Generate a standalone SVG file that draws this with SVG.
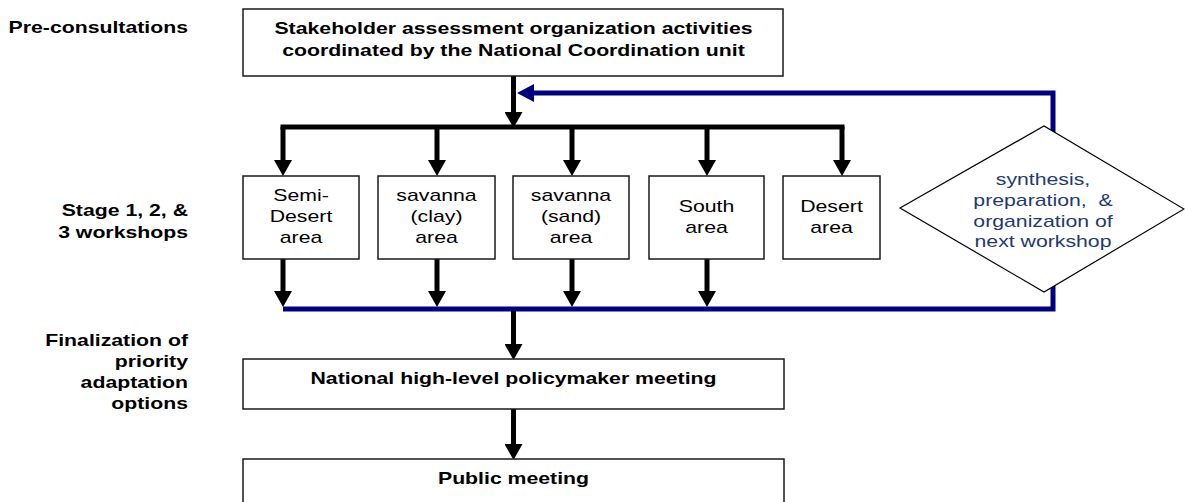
<svg xmlns="http://www.w3.org/2000/svg" width="1185" height="502" viewBox="0 0 1185 502">
<style>
  .box { fill: #ffffff; stroke: #1a1a1a; stroke-width: 1.5; }
  .dia { fill: #ffffff; stroke: #000000; stroke-width: 1.2; }
  text { font-family: "Liberation Sans", Arial, sans-serif; font-size: 17px; fill: #000000; }
  .b { font-weight: bold; }
  .mid { text-anchor: middle; }
  .end { text-anchor: end; }
  .blue { fill: #1f3a6e; }
  .blk { stroke: #000000; stroke-width: 5; fill: none; }
  .nav { stroke: #000080; stroke-width: 5; fill: none; stroke-linejoin: miter; }
</style>
<defs>
  <marker id="ab" markerUnits="userSpaceOnUse" markerWidth="16" markerHeight="18" viewBox="0 0 16 18" refX="0" refY="9" orient="auto">
    <path d="M0,0 L16,9 L0,18 Z" fill="#000000"/>
  </marker>
  <marker id="an" markerUnits="userSpaceOnUse" markerWidth="17" markerHeight="18" viewBox="0 0 17 18" refX="0" refY="9" orient="auto">
    <path d="M0,0 L17,9 L0,18 Z" fill="#000080"/>
  </marker>
</defs>

<g id="labels">
  <text class="b end" transform="translate(188,33) scale(1.25,1)">Pre-consultations</text>
  <text class="b end" transform="translate(188,216) scale(1.25,1)">Stage 1, 2, &amp;</text>
  <text class="b end" transform="translate(188,238) scale(1.25,1)">3 workshops</text>
  <text class="b end" transform="translate(188,346) scale(1.25,1)">Finalization of</text>
  <text class="b end" transform="translate(188,367) scale(1.25,1)">priority</text>
  <text class="b end" transform="translate(188,388) scale(1.25,1)">adaptation</text>
  <text class="b end" transform="translate(188,409) scale(1.25,1)">options</text>
</g>

<g id="connectors">
  <line class="blk" x1="513.5" y1="76" x2="513.5" y2="112" marker-end="url(#ab)"/>
  <line class="blk" x1="280.5" y1="127" x2="844.5" y2="127"/>
  <line class="blk" x1="283" y1="127" x2="283" y2="160" marker-end="url(#ab)"/>
  <line class="blk" x1="437" y1="127" x2="437" y2="160" marker-end="url(#ab)"/>
  <line class="blk" x1="572" y1="127" x2="572" y2="160" marker-end="url(#ab)"/>
  <line class="blk" x1="707" y1="127" x2="707" y2="160" marker-end="url(#ab)"/>
  <line class="blk" x1="842" y1="127" x2="842" y2="160" marker-end="url(#ab)"/>
  <line class="blk" x1="283" y1="259" x2="283" y2="291" marker-end="url(#ab)"/>
  <line class="blk" x1="437" y1="259" x2="437" y2="291" marker-end="url(#ab)"/>
  <line class="blk" x1="572" y1="259" x2="572" y2="291" marker-end="url(#ab)"/>
  <line class="blk" x1="707" y1="259" x2="707" y2="291" marker-end="url(#ab)"/>
  <polyline class="nav" points="283,309 1053,309 1053,93 534,93" marker-end="url(#an)"/>
  <line class="blk" x1="513.5" y1="311" x2="513.5" y2="344" marker-end="url(#ab)"/>
  <line class="blk" x1="513.5" y1="409" x2="513.5" y2="444" marker-end="url(#ab)"/>
</g>

<g id="n-top">
  <rect class="box" x="243" y="9" width="540" height="67"/>
  <text class="b mid" transform="translate(513.5,34) scale(1.25,1)">Stakeholder assessment organization activities</text>
  <text class="b mid" transform="translate(513.5,56) scale(1.25,1)">coordinated by the National Coordination unit</text>
</g>

<g id="n-semi">
  <rect class="box" x="243" y="176" width="116" height="83"/>
  <text class="mid" transform="translate(301,201) scale(1.25,1)">Semi-</text>
  <text class="mid" transform="translate(301,222) scale(1.25,1)">Desert</text>
  <text class="mid" transform="translate(301,243) scale(1.25,1)">area</text>
</g>
<g id="n-clay">
  <rect class="box" x="378" y="176" width="117" height="83"/>
  <text class="mid" transform="translate(436.5,201) scale(1.25,1)">savanna</text>
  <text class="mid" transform="translate(436.5,222) scale(1.25,1)">(clay)</text>
  <text class="mid" transform="translate(436.5,243) scale(1.25,1)">area</text>
</g>
<g id="n-sand">
  <rect class="box" x="513" y="176" width="116" height="83"/>
  <text class="mid" transform="translate(571,201) scale(1.25,1)">savanna</text>
  <text class="mid" transform="translate(571,222) scale(1.25,1)">(sand)</text>
  <text class="mid" transform="translate(571,243) scale(1.25,1)">area</text>
</g>
<g id="n-south">
  <rect class="box" x="649" y="176" width="115" height="83"/>
  <text class="mid" transform="translate(706.5,212) scale(1.25,1)">South</text>
  <text class="mid" transform="translate(706.5,233) scale(1.25,1)">area</text>
</g>
<g id="n-desert">
  <rect class="box" x="783" y="176" width="97" height="83"/>
  <text class="mid" transform="translate(831.5,212) scale(1.25,1)">Desert</text>
  <text class="mid" transform="translate(831.5,233) scale(1.25,1)">area</text>
</g>

<g id="n-synthesis">
  <polygon class="dia" points="900,208 1044,126 1184,209 1044,292"/>
  <text class="mid blue" transform="translate(1043,185) scale(1.25,1)">synthesis,</text>
  <text class="mid blue" transform="translate(1043,206) scale(1.25,1)" xml:space="preserve">preparation,  &amp;</text>
  <text class="mid blue" transform="translate(1043,227) scale(1.25,1)">organization of</text>
  <text class="mid blue" transform="translate(1043,247) scale(1.25,1)">next workshop</text>
</g>

<g id="n-national">
  <rect class="box" x="243" y="359" width="541" height="50"/>
  <text class="b mid" transform="translate(513.5,384) scale(1.25,1)">National high-level policymaker meeting</text>
</g>

<g id="n-public">
  <rect class="box" x="243" y="459" width="541" height="50"/>
  <text class="b mid" transform="translate(513.5,484) scale(1.25,1)">Public meeting</text>
</g>
</svg>
